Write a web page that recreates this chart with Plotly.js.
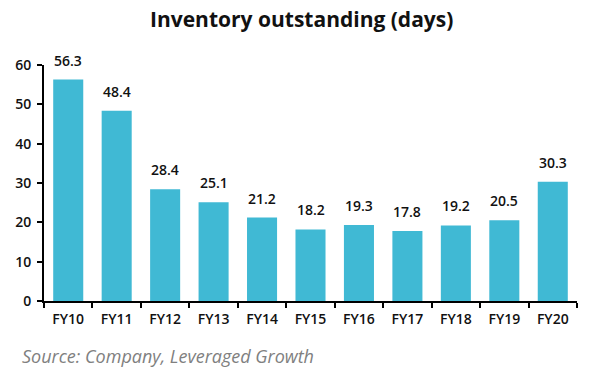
<!DOCTYPE html>
<html><head><meta charset="utf-8">
<script src="https://cdn.plot.ly/plotly-3.0.1.min.js"></script>
<style>html,body{margin:0;padding:0;background:#fff}</style>
</head><body><div id="chart" style="width:601px;height:389px"></div>
<script>
const categories = ["FY10","FY11","FY12","FY13","FY14","FY15","FY16","FY17","FY18","FY19","FY20"];
const values = [56.3,48.4,28.4,25.1,21.2,18.2,19.3,17.8,19.2,20.5,30.3];
const yTicks = [0,10,20,30,40,50,60];

const trace = {
  type: "bar", x: categories, y: values,
  marker: {color: "#40B9D4"},
  hoverinfo: "none"
};
const labelFont = {family: "Open Sans", size: 14, color: "#111", weight: 600};
const labels = categories.map((c, i) => ({
  x: c, y: values[i], xref: "x", yref: "y", text: values[i].toFixed(1),
  showarrow: false, xanchor: "center", yanchor: "bottom", yshift: 8, font: labelFont
}));
const layout = {
  width: 601, height: 389,
  margin: {l: 44, r: 24, t: 65, b: 88},
  paper_bgcolor: "#fff", plot_bgcolor: "#fff",
  bargap: 0.38,
  showlegend: false,
  title: {text: "<b>Inventory outstanding (days)</b>", x: 0.502, xanchor: "center", y: 0.95, yanchor: "middle",
          font: {family: "Open Sans", size: 21, color: "#111"}},
  xaxis: {type: "category", showline: true, linecolor: "#000", linewidth: 2,
          ticks: "outside", tickson: "boundaries", ticklen: 5, tickwidth: 2, tickcolor: "#000",
          ticklabelstandoff: 4,
          tickfont: {family: "Open Sans", size: 14, color: "#111", weight: 600}, showgrid: false, zeroline: false},
  yaxis: {range: [0, 60], tickvals: yTicks, showline: true, linecolor: "#000", linewidth: 2,
          ticks: "outside", ticklen: 5, tickwidth: 2, tickcolor: "#000", ticklabelstandoff: 3,
          tickfont: {family: "Open Sans", size: 14, color: "#111", weight: 600}, showgrid: false, zeroline: false},
  annotations: labels.concat([{text: "<i>Source: Company, Leveraged Growth</i>", xref: "paper", yref: "paper",
    x: -0.045, y: -0.235, xanchor: "left", yanchor: "middle", showarrow: false,
    font: {family: "Open Sans", size: 18, color: "#808080"}}])
};
Plotly.newPlot("chart", [trace], layout, {displayModeBar: false, staticPlot: true});
</script></body></html>
